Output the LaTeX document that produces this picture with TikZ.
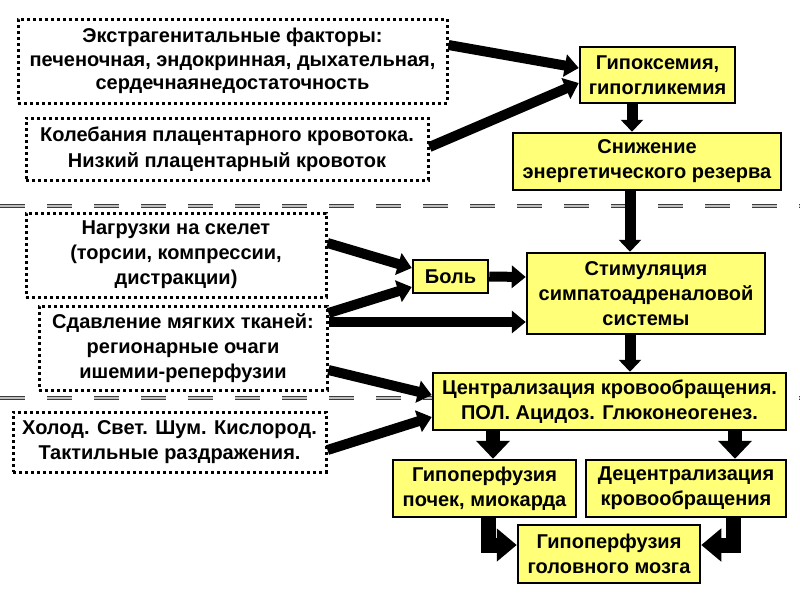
\documentclass[tikz,border=0pt]{standalone}
\usepackage{fontspec}
\setmainfont{Liberation Sans}[BoldFont={Liberation Sans Bold}]
\usetikzlibrary{arrows.meta}
\definecolor{ylw}{RGB}{255,255,120}
\definecolor{sepc}{RGB}{60,60,60}
\tikzset{
 ybox/.style={draw=black, line width=2.5pt, fill=ylw, inner sep=0pt, align=center,
   font=\bfseries\fontsize{20}{25}\selectfont},
 dbox/.style={draw=black, line width=3pt, dash pattern=on 3pt off 3pt, fill=white,
   inner sep=0pt, align=center, font=\bfseries\fontsize{20}{25}\selectfont},
 arr/.style={line width=10pt, -{Triangle[length=14pt,width=22pt]}},
 varr/.style={line width=11pt, -{Triangle[length=12pt,width=22pt]}},
 barr/.style={line width=14pt, -{Triangle[length=18pt,width=33pt]}},
 earr/.style={line width=15pt, line join=miter, -{Triangle[length=20pt,width=32pt]}},
 sepline/.style={draw=sepc, line width=1.5pt, double=gray!50, double distance=1.5pt,
   dash pattern=on 25pt off 22pt}
}
\begin{document}
\begin{tikzpicture}[x=1pt,y=-1pt]
\useasboundingbox (0,0) rectangle (800,600);
\fill[white] (0,0) rectangle (800,600);
% separators
\coordinate (s1a) at (0,206); \coordinate (s1b) at (800,206);
\coordinate (s2a) at (0,398); \coordinate (s2b) at (800,398);
\draw[sepline] (s1a) -- (s1b);
\draw[sepline] (s2a) -- (s2b);
% nodes
\node[dbox, minimum width=429pt, minimum height=84pt, font=\bfseries\fontsize{20}{23.5}\selectfont] (A) at (232.5,61)
  {Экстрагенитальные факторы:\\печеночная, эндокринная, дыхательная,\\сердечнаянедостаточность};
\node[dbox, minimum width=402pt, minimum height=62pt, font=\bfseries\fontsize{20}{26}\selectfont] (B) at (227,149)
  {Колебания плацентарного кровотока.\\Низкий плацентарный кровоток};
\node[ybox, minimum width=155pt, minimum height=56pt] (hyp) at (657.5,75)
  {Гипоксемия,\\гипогликемия};
\node[ybox, minimum width=268pt, minimum height=57pt] (sniz) at (647,161.5)
  {Снижение\\энергетического резерва};
\node[dbox, minimum width=300pt, minimum height=84pt] (nagr) at (176,255)
  {Нагрузки на скелет\\(торсии, компрессии,\\дистракции)};
\node[dbox, minimum width=288pt, minimum height=84pt] (sdav) at (183,348)
  {Сдавление мягких тканей:\\регионарные очаги\\ишемии-реперфузии};
\node[ybox, minimum width=75pt, minimum height=33pt] (bol) at (450.5,276.5) {Боль};
\node[ybox, minimum width=238pt, minimum height=81pt] (stim) at (646,293.5)
  {Стимуляция\\симпатоадреналовой\\системы};
\node[ybox, minimum width=353pt, minimum height=57pt] (centr) at (609.5,401.5)
  {Централизация кровообращения.\\ПОЛ. Ацидоз. Глюконеогенез.};
\node[dbox, minimum width=313pt, minimum height=60pt] (holod) at (169.5,442)
  {Холод. Свет. Шум. Кислород.\\Тактильные раздражения.};
\node[ybox, minimum width=183pt, minimum height=57pt] (poch) at (484.5,488.5)
  {Гипоперфузия\\почек, миокарда};
\node[ybox, minimum width=200pt, minimum height=57pt] (decen) at (686,488.5)
  {Децентрализация\\кровообращения};
\node[ybox, minimum width=182pt, minimum height=58pt] (mozg) at (609,554)
  {Гипоперфузия\\головного мозга};
% arrows
\draw[arr] ([yshift=16pt]A.east) -- ([yshift=7pt]hyp.west);
\draw[arr] ([yshift=2pt]B.east) -- ([yshift=-8pt]hyp.west);
\draw[varr] ([xshift=-25.5pt]hyp.south) -- ([xshift=-15pt]sniz.north);
\draw[varr] ([xshift=-17pt]sniz.south) -- ([xshift=-16pt]stim.north);
\draw[arr] ([yshift=12pt]nagr.east) -- ([yshift=8.5pt]bol.west);
\draw[arr] ([yshift=35pt]sdav.east) -- ([yshift=-10.5pt]bol.west);
\draw[arr] ([yshift=26pt]sdav.east) -- ([yshift=-28.5pt]stim.west);
\draw[arr] (bol.east) -- ([yshift=16.5pt]stim.west);
\draw[varr] ([xshift=-16pt]stim.south) -- ([xshift=20.5pt]centr.north);
\draw[arr] ([yshift=-22pt]sdav.east) -- ([yshift=6.5pt]centr.west);
\draw[arr] ([yshift=-8pt]holod.east) -- ([yshift=-15.5pt]centr.west);
\draw[barr] ([xshift=-116.5pt]centr.south) -- ([xshift=8.5pt]poch.north);
\draw[barr] ([xshift=125.5pt]centr.south) -- ([xshift=49pt]decen.north);
\draw[earr] ([xshift=3.5pt]poch.south) |- ([yshift=9pt]mozg.west);
\draw[earr] ([xshift=47pt]decen.south) |- ([yshift=9pt]mozg.east);
\end{tikzpicture}
\end{document}
